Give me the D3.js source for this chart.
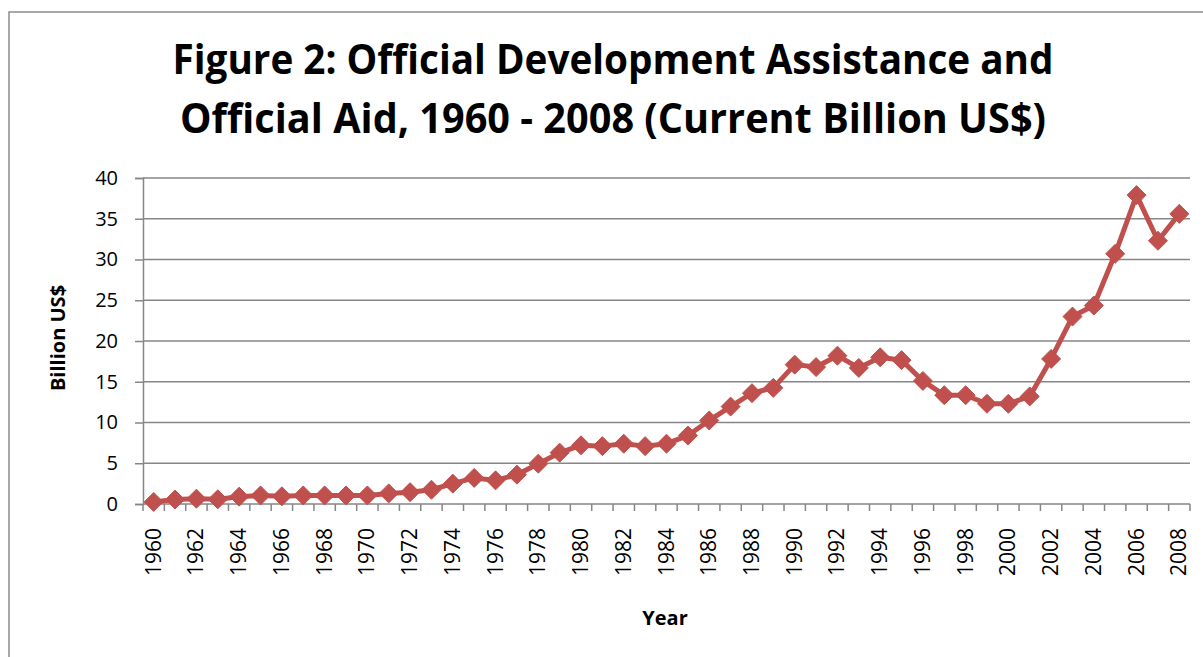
<!DOCTYPE html>
<html>
<head>
<meta charset="utf-8">
<script src="https://cdn.jsdelivr.net/npm/d3@7"></script>
<style>
  html, body { margin: 0; padding: 0; background: #fff; }
  svg { display: block; }
</style>
</head>
<body>
<svg id="chart" width="1203" height="657"></svg>
<script>
const years = d3.range(1960, 2009);
const values = [
  0.25, 0.55, 0.65, 0.58, 0.9, 1.05, 0.95, 1.05, 1.05, 1.05,
  1.05, 1.3, 1.45, 1.75, 2.5, 3.2, 2.9, 3.6, 4.95, 6.3,
  7.2, 7.1, 7.4, 7.1, 7.4, 8.4, 10.25, 11.95, 13.6, 14.25,
  17.1, 16.8, 18.2, 16.7, 18.0, 17.65, 15.1, 13.35, 13.35, 12.3,
  12.3, 13.2, 17.8, 23.0, 24.35, 30.7, 37.9, 32.3, 35.6
];
const yTicks = [0, 5, 10, 15, 20, 25, 30, 35, 40];
const xLabelYears = years.filter(y => (y - 1960) % 2 === 0);
const titleLines = [
  "Figure 2: Official Development Assistance and",
  "Official Aid, 1960 - 2008 (Current Billion US$)"
];
const yAxisTitle = "Billion US$";
const xAxisTitle = "Year";

const data = years.map((y, i) => ({ year: y, value: values[i] }));

const svg = d3.select("#chart");
const font = "'Open Sans', 'Noto Sans', sans-serif";
const gridColor = "#868686";
const lineColor = "#C0504D";

// outer border
svg.append("rect")
  .attr("x", 9).attr("y", 12)
  .attr("width", 1220).attr("height", 700)
  .attr("fill", "none").attr("stroke", "#8c8c8c").attr("stroke-width", 1.5);

const x = d3.scaleBand().domain(years).range([143, 1190]).padding(0);
const y = d3.scaleLinear().domain([0, 40]).range([504, 178]);

// title
const titleWidths = [881, 866];
const titleBaselines = [74, 133];
titleLines.forEach((t, i) => {
  svg.append("text")
    .attr("x", 613).attr("y", titleBaselines[i])
    .attr("text-anchor", "middle")
    .attr("font-family", font)
    .attr("font-weight", "bold")
    .attr("font-size", 41)
    .attr("textLength", titleWidths[i])
    .attr("lengthAdjust", "spacingAndGlyphs")
    .attr("fill", "#000")
    .text(t);
});

// gridlines
svg.append("g")
  .selectAll("line")
  .data(yTicks.filter(d => d > 0))
  .join("line")
  .attr("x1", 143).attr("x2", 1190)
  .attr("y1", d => y(d)).attr("y2", d => y(d))
  .attr("stroke", gridColor).attr("stroke-width", 1.5);

// y axis
const yAxis = svg.append("g")
  .attr("transform", "translate(143,0)")
  .call(d3.axisLeft(y).tickValues(yTicks).tickSize(8).tickPadding(17));
yAxis.select(".domain").attr("stroke", gridColor).attr("stroke-width", 1.5);
yAxis.selectAll(".tick line").attr("stroke", gridColor).attr("stroke-width", 1.5);
yAxis.selectAll(".tick text")
  .attr("font-family", font).attr("font-size", 20).attr("fill", "#000");

// x axis line
svg.append("line")
  .attr("x1", 143).attr("x2", 1190)
  .attr("y1", y(0)).attr("y2", y(0))
  .attr("stroke", gridColor).attr("stroke-width", 1.5);

// x ticks at category boundaries
const boundaries = years.map(d => x(d)).concat([x(years[years.length - 1]) + x.bandwidth()]);
svg.append("g")
  .selectAll("line")
  .data(boundaries)
  .join("line")
  .attr("x1", d => d).attr("x2", d => d)
  .attr("y1", y(0)).attr("y2", y(0) + 7)
  .attr("stroke", gridColor).attr("stroke-width", 1.5);

// x labels
svg.append("g")
  .selectAll("text")
  .data(xLabelYears)
  .join("text")
  .attr("transform", d => `translate(${x(d) + x.bandwidth() / 2 + 7},528) rotate(-90)`)
  .attr("text-anchor", "end")
  .attr("font-family", font)
  .attr("font-size", 21)
  .attr("fill", "#000")
  .text(d => d);

// axis titles
svg.append("text")
  .attr("transform", "translate(65,338) rotate(-90)")
  .attr("text-anchor", "middle")
  .attr("font-family", font)
  .attr("font-weight", "bold")
  .attr("font-size", 20)
  .attr("fill", "#000")
  .text(yAxisTitle);

svg.append("text")
  .attr("x", 665).attr("y", 625)
  .attr("text-anchor", "middle")
  .attr("font-family", font)
  .attr("font-weight", "bold")
  .attr("font-size", 20)
  .attr("fill", "#000")
  .text(xAxisTitle);

// series line
const line = d3.line()
  .x(d => x(d.year) + x.bandwidth() / 2)
  .y(d => y(d.value));

svg.append("path")
  .datum(data)
  .attr("d", line)
  .attr("fill", "none")
  .attr("stroke", lineColor)
  .attr("stroke-width", 5)
  .attr("stroke-linejoin", "round");

// diamond markers
const h = 9.5;
svg.append("g")
  .selectAll("path")
  .data(data)
  .join("path")
  .attr("transform", d => `translate(${x(d.year) + x.bandwidth() / 2},${y(d.value)})`)
  .attr("d", `M0,${-h}L${h},0L0,${h}L${-h},0Z`)
  .attr("fill", lineColor)
  .attr("stroke", lineColor)
  .attr("stroke-width", 1);
</script>
</body>
</html>
